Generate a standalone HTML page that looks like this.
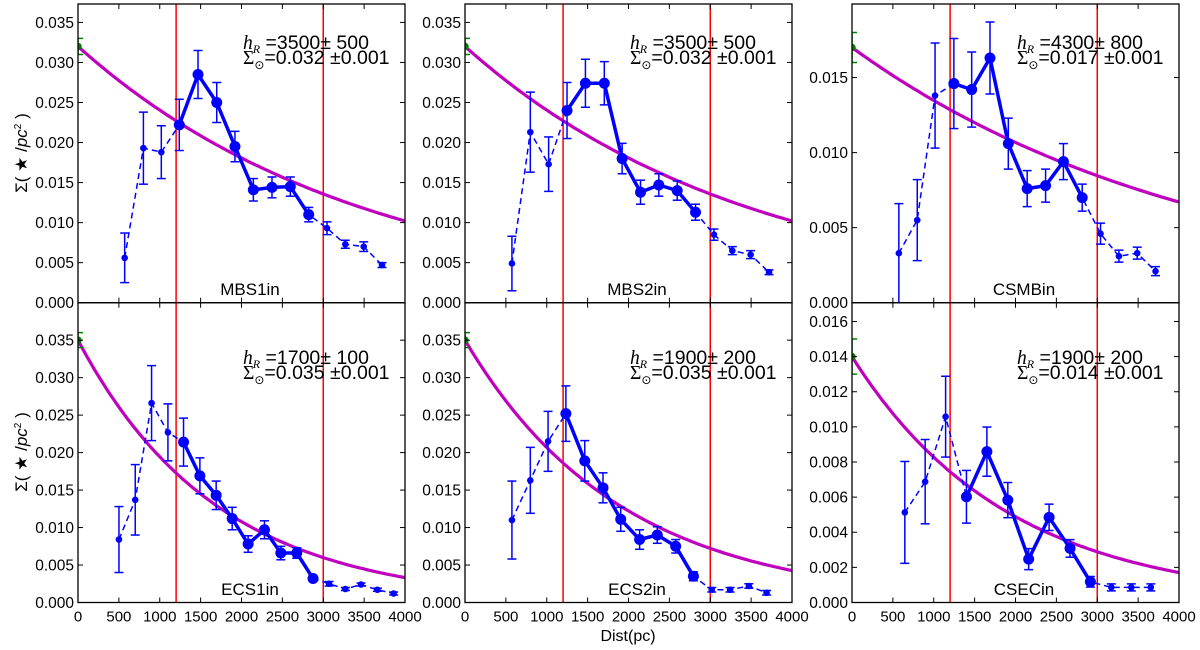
<!DOCTYPE html>
<html><head><meta charset="utf-8"><style>
body{margin:0;background:#fff}
svg text{font-family:"Liberation Sans","DejaVu Sans",sans-serif}
</style></head><body>
<svg id="fig" xmlns="http://www.w3.org/2000/svg" width="1200" height="645" viewBox="0 0 1200 645"></svg>
<script>
// ---- data ----
const mbs1X=[571,800,1019,1239,1468,1697,1920,2145,2373,2597,2822,3046,3270,3495,3719];
const mbs1Y=[0.0056,0.0193,0.0188,0.0222,0.0285,0.0250,0.0195,0.0141,0.0144,0.0145,0.0110,0.0093,0.0073,0.0070,0.0047];
const mbs1E=[0.0031,0.0045,0.0033,0.0032,0.0030,0.0025,0.0019,0.0014,0.0013,0.0012,0.0009,0.0008,0.0005,0.0006,0.0003];
const mbs2X=[574,799,1023,1248,1473,1704,1922,2147,2371,2596,2820,3045,3270,3494,3719];
const mbs2Y=[0.0049,0.0213,0.0173,0.0240,0.0274,0.0274,0.0180,0.0138,0.0147,0.0140,0.0113,0.0085,0.0065,0.0060,0.0038];
const mbs2E=[0.0034,0.0050,0.0034,0.0035,0.0030,0.0027,0.0019,0.0015,0.0014,0.0012,0.0010,0.0007,0.0005,0.0005,0.0003];
const csmbX=[573,798,1016,1246,1464,1688,1912,2143,2368,2586,2816,3040,3265,3489,3713];
const csmbY=[0.0033,0.0055,0.0138,0.0146,0.0142,0.0163,0.0106,0.0076,0.0078,0.0094,0.0070,0.0046,0.0031,0.0033,0.0021];
const csmbE=[0.0033,0.0027,0.0035,0.0030,0.0025,0.0024,0.0017,0.0012,0.0011,0.0012,0.0009,0.0007,0.0004,0.0004,0.0003];
const ecs1X=[501,700,900,1100,1291,1491,1690,1886,2081,2281,2481,2676,2875,3071,3271,3462,3662,3861];
const ecs1Y=[0.0084,0.0137,0.0266,0.0227,0.0214,0.0169,0.0143,0.0112,0.0078,0.0097,0.0066,0.0066,0.0032,0.0025,0.0018,0.0024,0.0017,0.0012];
const ecs1E=[0.0044,0.0047,0.0050,0.0038,0.0032,0.0024,0.0019,0.0015,0.0011,0.0012,0.0009,0.0007,0.0004,0.0003,0.0002,0.0002,0.0002,0.0002];
const ecs2X=[574,799,1016,1234,1465,1688,1905,2136,2352,2577,2794,3018,3242,3472,3689];
const ecs2Y=[0.0110,0.0163,0.0215,0.0252,0.0189,0.0153,0.0111,0.0084,0.0090,0.0075,0.0035,0.0017,0.0017,0.0022,0.0013];
const ecs2E=[0.0052,0.0044,0.0040,0.0037,0.0027,0.0020,0.0016,0.0013,0.0011,0.0009,0.0006,0.0003,0.0003,0.0003,0.0003];
const csecX=[646,895,1145,1400,1650,1906,2161,2411,2667,2916,3172,3417,3655];
const csecY=[0.00513,0.00688,0.01058,0.00602,0.00859,0.00583,0.00247,0.00485,0.00308,0.00118,0.00086,0.00086,0.00086];
const csecE=[0.0029,0.0024,0.0023,0.0015,0.0014,0.0010,0.0006,0.00075,0.0005,0.0003,0.0002,0.0002,0.0002];
const panelNames=["MBS1in","MBS2in","CSMBin","ECS1in","ECS2in","CSECin"];
const fitH=[3500,3500,4300,1700,1900,1900];
const fitHErr=[500,500,800,100,200,200];
const fitS=[0.032,0.032,0.017,0.035,0.035,0.014];
const yMax=[0.0373,0.0373,0.0199,0.0400,0.0400,0.01707];
const yStep=[0.005,0.005,0.005,0.005,0.005,0.002];
const solidFrom=[3,3,3,4,3,3];
const solidTo=[10,10,10,12,10,9];
const xTicks=[0,500,1000,1500,2000,2500,3000,3500,4000];
const redLines=[1200,3000];
const seriesX=[mbs1X,mbs2X,csmbX,ecs1X,ecs2X,csecX];
const seriesY=[mbs1Y,mbs2Y,csmbY,ecs1Y,ecs2Y,csecY];
const seriesE=[mbs1E,mbs2E,csmbE,ecs1E,ecs2E,csecE];

const NS="http://www.w3.org/2000/svg";
const svg=document.getElementById('fig');
function mk(tag,attrs,parent){const e=document.createElementNS(NS,tag);for(const k in attrs)e.setAttribute(k,attrs[k]);(parent||svg).appendChild(e);return e;}

const lefts=[78,465,852], W=327;
const tops=[4,302.7], bots=[302.7,602.5];

for(let p=0;p<6;p++){
  const col=p%3,row=Math.floor(p/3);
  const L=lefts[col],R=L+W,T=tops[row],B=bots[row];
  const sx=v=>L+v/4000*W;
  const sy=v=>B-v/yMax[p]*(B-T);
  const g=mk('g',{});
  
  
  const clipId='c'+p;
  const cp=mk('clipPath',{id:clipId},g);mk('rect',{x:L,y:T,width:W,height:B-T},cp);
  const inner=mk('g',{'clip-path':'url(#'+clipId+')'},g);
  redLines.forEach(v=>{const l=mk('line',{x1:sx(v),x2:sx(v),y1:T,y2:B,stroke:'#ff0000','stroke-width':1.5},inner);
    });
  let d='';for(let x=0;x<=4000;x+=40){const v=fitS[p]*Math.exp(-x/fitH[p]);d+=(x?'L':'M')+sx(x).toFixed(1)+','+sy(v).toFixed(1);}
  const fc=mk('path',{d:d,fill:'none',stroke:'#bf00bf','stroke-width':3.2},inner);
  
  const gy=fitS[p];
  const sp=mk('g',{stroke:'#008000','stroke-width':1.5},inner);
  
  mk('line',{x1:sx(0),x2:sx(0),y1:sy(gy-0.001),y2:sy(gy+0.001)},sp);
  mk('line',{x1:sx(0),x2:sx(0)+5,y1:sy(gy-0.001),y2:sy(gy-0.001)},sp);
  mk('line',{x1:sx(0),x2:sx(0)+5,y1:sy(gy+0.001),y2:sy(gy+0.001)},sp);
  mk('circle',{cx:sx(0),cy:sy(gy),r:3,fill:'#008000'},sp);
  const X=seriesX[p],Y=seriesY[p],E=seriesE[p];
  let dd='';X.forEach((x,i)=>{dd+=(i?'L':'M')+sx(x).toFixed(1)+','+sy(Y[i]).toFixed(1);});
  const dl=mk('path',{d:dd,fill:'none',stroke:'#0000ff','stroke-width':1.5,'stroke-dasharray':'6,4'},inner);
  
  let sd='';for(let i=solidFrom[p];i<=solidTo[p];i++){sd+=(i>solidFrom[p]?'L':'M')+sx(X[i]).toFixed(1)+','+sy(Y[i]).toFixed(1);}
  const sl=mk('path',{d:sd,fill:'none',stroke:'#0000ff','stroke-width':3.5,'stroke-linejoin':'round'},inner);
  
  X.forEach((x,i)=>{
    const cx=sx(x),y1=sy(Y[i]-E[i]),y2=sy(Y[i]+E[i]);
    const eb=mk('g',{stroke:'#0000ff','stroke-width':1.5},inner);
    
    mk('line',{x1:cx,x2:cx,y1:y1,y2:y2},eb);
    mk('line',{x1:cx-4.5,x2:cx+4.5,y1:y1,y2:y1},eb);
    mk('line',{x1:cx-4.5,x2:cx+4.5,y1:y2,y2:y2},eb);
    const big=i>=solidFrom[p]&&i<=solidTo[p];
    const m=mk('circle',{cx:cx,cy:sy(Y[i]),r:big?5.5:3.3,fill:'#0000ff'},inner);
    
  });
  const fr=mk('rect',{x:L,y:T,width:W,height:B-T,fill:'none',stroke:'#000','stroke-width':1.3},g);
  
  xTicks.forEach(v=>{const x=sx(v);
    mk('line',{x1:x,x2:x,y1:B,y2:B-5,stroke:'#000','stroke-width':1},g);
    mk('line',{x1:x,x2:x,y1:T,y2:T+5,stroke:'#000','stroke-width':1},g);
    if(row===1){const t=mk('text',{x:x,y:B+19,'text-anchor':'middle','font-size':15},g);t.textContent=String(v);
      }
  });
  const n=Math.floor(yMax[p]/yStep[p]+1e-6);
  for(let k=0;k<=n;k++){const v=k*yStep[p],y=sy(v);
    mk('line',{x1:L,x2:L+5,y1:y,y2:y,stroke:'#000','stroke-width':1},g);
    mk('line',{x1:R,x2:R-5,y1:y,y2:y,stroke:'#000','stroke-width':1},g);
    if(y-T<8) continue;
    const t=mk('text',{x:L-4,y:y+5.5,'text-anchor':'end','font-size':15.5},g);t.textContent=v.toFixed(3);
    
  }
  const ay=row===0?49:364;
  const a1=mk('text',{x:L+165,y:ay,'font-size':19.5},g);
  
  a1.innerHTML='<tspan font-family="Liberation Serif,serif" font-style="italic">h</tspan><tspan font-family="Liberation Serif,serif" font-style="italic" font-size="12" dy="4">R</tspan><tspan dy="-4"> ='+fitH[p]+'± '+fitHErr[p]+'</tspan>';
  const a2=mk('text',{x:L+165,y:ay+15,'font-size':19.5},g);
  
  a2.innerHTML='<tspan font-family="Liberation Serif,serif">Σ</tspan><tspan font-size="12" dy="5">⊙</tspan><tspan dy="-5">='+fitS[p].toFixed(3)+' ±0.001</tspan>';
  const nl=mk('text',{x:L+172,y:row===0?295:595,'text-anchor':'middle','font-size':17},g);
  nl.textContent=panelNames[p];
  
}
[153,452].forEach(cy=>{
  const t=mk('text',{x:0,y:0,'font-size':17,'font-family':'Liberation Serif,serif',transform:'translate(27,'+cy+') rotate(-90)','text-anchor':'middle'});
  
  t.innerHTML='Σ( ★ /<tspan font-style="italic">pc</tspan><tspan font-size="10" dy="-6">2</tspan><tspan dy="6"> )</tspan>';
});
const xt=mk('text',{x:628,y:641,'text-anchor':'middle','font-size':16});
xt.textContent='Dist(pc)';

</script>
</body></html>
